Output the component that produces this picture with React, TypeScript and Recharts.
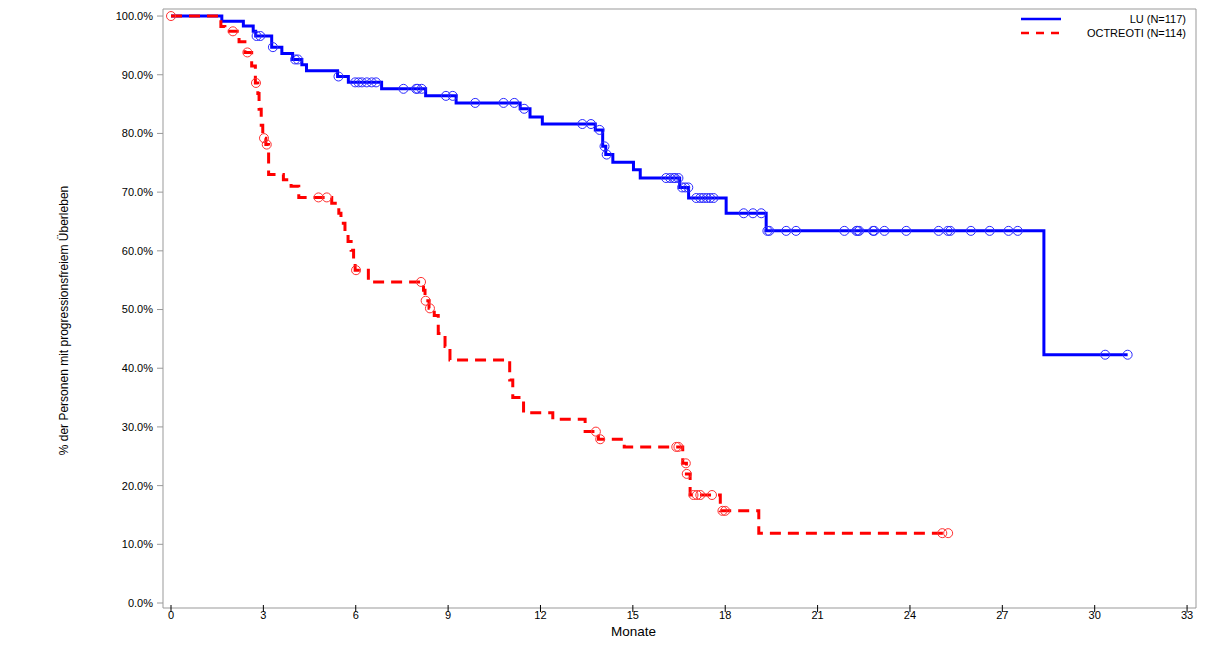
import React from "react";
import { ComposedChart, Line, Scatter, XAxis, YAxis } from "recharts";

// LU arm: event times (months) and survival after each step (%)
const luMonths = [
  0, 1.65, 2.35, 2.67, 2.75, 3.27, 3.6, 3.95, 4.25, 4.4, 5.41, 5.76, 6.84,
  8.27, 9.26, 11.34, 11.66, 12.06, 13.78, 14.02, 14.12, 14.35, 15.02, 15.24,
  16.52, 16.81, 18.03, 19.33, 28.35, 31.07,
];
const luPct = [
  100, 99.1, 98.3, 97.4, 96.6, 94.7, 93.6, 92.6, 91.7, 90.7, 89.7, 88.7, 87.6,
  86.4, 85.2, 84.2, 82.8, 81.6, 80.6, 77.8, 76.4, 75.1, 73.8, 72.4, 70.8, 69.0,
  66.4, 63.4, 42.3, 42.3,
];
const luCensored = [
  2.78, 2.9, 3.31, 4.03, 4.12, 5.44, 5.98, 6.09, 6.2, 6.36, 6.52, 6.66, 7.55,
  7.96, 8.01, 8.14, 8.93, 9.15, 9.88, 10.8, 11.15, 11.47, 13.36, 13.64, 13.92,
  14.08, 14.15, 16.08, 16.21, 16.32, 16.37, 16.48, 16.6, 16.7, 16.8, 17.06,
  17.19, 17.29, 17.4, 17.51, 17.62, 18.6, 18.9, 19.17, 19.37, 19.43, 19.98,
  20.3, 21.87, 22.26, 22.3, 22.35, 22.8, 22.84, 23.17, 23.88, 24.93, 25.23,
  25.31, 25.98, 26.59, 27.2, 27.5, 30.34, 31.07,
];

// OCTREOTI arm
const octMonths = [
  0, 1.62, 1.75, 2.21, 2.4, 2.62, 2.74, 2.82, 2.86, 2.93, 2.98, 3.08, 3.17,
  3.65, 3.9, 4.15, 5.22, 5.45, 5.52, 5.65, 5.75, 5.85, 5.93, 5.98, 6.41, 8.2,
  8.25, 8.38, 8.55, 8.68, 8.9, 9.06, 11.0, 11.1, 11.45, 12.4, 13.45, 13.88,
  14.72, 16.62, 16.74, 16.86, 17.84, 19.09, 25.24,
];
const octPct = [
  100, 98.2, 97.4, 95.6, 93.8, 91.5, 88.6, 86.8, 84.1, 81.4, 79.2, 78.1, 73.0,
  72.1, 71.0, 69.1, 68.1, 66.4, 64.7, 63.0, 61.6, 60.1, 58.7, 56.7, 54.7, 53.3,
  51.5, 50.2, 49.0, 45.9, 43.7, 41.4, 38.0, 35.0, 32.4, 31.3, 29.2, 27.9, 26.6,
  23.8, 22.0, 18.4, 15.7, 11.9, 11.9,
];
const octCensored = [
  0, 2.01, 2.48, 2.76, 3.02, 3.11, 4.79, 5.06, 6.01, 8.12, 8.27, 8.41, 13.8,
  13.94, 16.41, 16.48, 16.72, 16.75, 16.97, 17.08, 17.19, 17.57, 17.91, 18.0,
  25.05, 25.24,
];

const xTicks = [0, 3, 6, 9, 12, 15, 18, 21, 24, 27, 30, 33];
const yTicks = [0, 10, 20, 30, 40, 50, 60, 70, 80, 90, 100];

const toSteps = (months: number[], pct: number[]) =>
  months.map((m, i) => ({ x: m, y: pct[i] }));

// censor marks sit on the curve: value of the last step at or before t
const survAt = (months: number[], pct: number[], t: number) => {
  let v = pct[0];
  for (let i = 0; i < months.length; i++) if (months[i] <= t) v = pct[i];
  return v;
};

const luData = toSteps(luMonths, luPct);
const octData = toSteps(octMonths, octPct);
const luMarks = luCensored.map((t) => ({ x: t, y: survAt(luMonths, luPct, t) }));
const octMarks = octCensored.map((t) => ({
  x: t,
  y: survAt(octMonths, octPct, t),
}));

const FONT = "'Liberation Sans', Arial, sans-serif";

const XTick = (props: any) => {
  const { x, y, payload } = props;
  return (
    <g>
      <line x1={x} x2={x} y1={y - 3} y2={y + 4} stroke="#000" />
      <text
        x={x}
        y={y + 11}
        textAnchor="middle"
        fontSize={11}
        fontFamily={FONT}
        fill="#000"
      >
        {payload.value}
      </text>
    </g>
  );
};

const circle = (color: string) => (props: any) =>
  (
    <circle
      cx={props.cx}
      cy={props.cy}
      r={4.5}
      fill="none"
      stroke={color}
      strokeWidth={1}
    />
  );

export default function App() {
  return (
    <div style={{ position: "absolute", left: 0, top: 0, fontFamily: FONT }}>
      <ComposedChart
        width={1211}
        height={648}
        margin={{ top: 8, right: 14, left: 0, bottom: 0 }}
      >
        <XAxis
          type="number"
          dataKey="x"
          domain={[-0.26, 33.29]}
          ticks={xTicks}
          interval={0}
          allowDataOverflow
          tick={<XTick />}
          tickLine={false}
          tickSize={0}
          tickMargin={0}
          axisLine={{ stroke: "#999" }}
          height={40}
          label={{
            value: "Monate",
            position: "insideBottom",
            offset: 12,
            dx: -46,
            fontSize: 13.5,
            fill: "#000",
          }}
        />
        <XAxis
          xAxisId="top"
          orientation="top"
          type="number"
          domain={[0, 1]}
          tick={false}
          tickLine={false}
          axisLine={{ stroke: "#999" }}
          height={1}
        />
        <YAxis
          type="number"
          domain={[-0.85, 101.2]}
          ticks={yTicks}
          interval={0}
          allowDataOverflow
          width={163}
          tickSize={6}
          tickMargin={4}
          tickFormatter={(v: number) => v.toFixed(1) + "%"}
          tick={{ fontSize: 11, fill: "#000", fontFamily: FONT }}
          tickLine={{ stroke: "#999" }}
          axisLine={{ stroke: "#999" }}
          label={{
            value: "% der Personen mit progressionsfreiem Überleben",
            angle: -90,
            position: "center",
            dx: -18,
            dy: 12,
            fontSize: 12,
            fill: "#000",
          }}
        />
        <YAxis
          yAxisId="right"
          orientation="right"
          type="number"
          domain={[0, 1]}
          tick={false}
          tickLine={false}
          axisLine={{ stroke: "#999" }}
          width={1}
        />
        <Line
          data={luData}
          dataKey="y"
          type="stepAfter"
          stroke="#0000FF"
          strokeWidth={3}
          dot={false}
          activeDot={false}
          isAnimationActive={false}
        />
        <Scatter
          data={luMarks}
          dataKey="y"
          shape={circle("#2a2aff")}
          isAnimationActive={false}
        />
        <Line
          data={octData}
          dataKey="y"
          type="stepAfter"
          stroke="#FF0000"
          strokeWidth={3}
          strokeDasharray="11 7"
          dot={false}
          activeDot={false}
          isAnimationActive={false}
        />
        <Scatter
          data={octMarks}
          dataKey="y"
          shape={circle("#ff3030")}
          isAnimationActive={false}
        />
      </ComposedChart>
      <svg
        width={200}
        height={40}
        style={{ position: "absolute", left: 1011, top: 10 }}
      >
        <line x1={10} x2={50} y1={9} y2={9} stroke="#0000FF" strokeWidth={2.5} />
        <text
          x={175}
          y={13}
          textAnchor="end"
          fontSize={11}
          fontFamily={FONT}
          fill="#000"
        >
          LU (N=117)
        </text>
        <line
          x1={10}
          x2={50}
          y1={23}
          y2={23}
          stroke="#FF0000"
          strokeWidth={2.5}
          strokeDasharray="8 7"
        />
        <text
          x={175}
          y={27}
          textAnchor="end"
          fontSize={11}
          fontFamily={FONT}
          fill="#000"
        >
          OCTREOTI (N=114)
        </text>
      </svg>
    </div>
  );
}
